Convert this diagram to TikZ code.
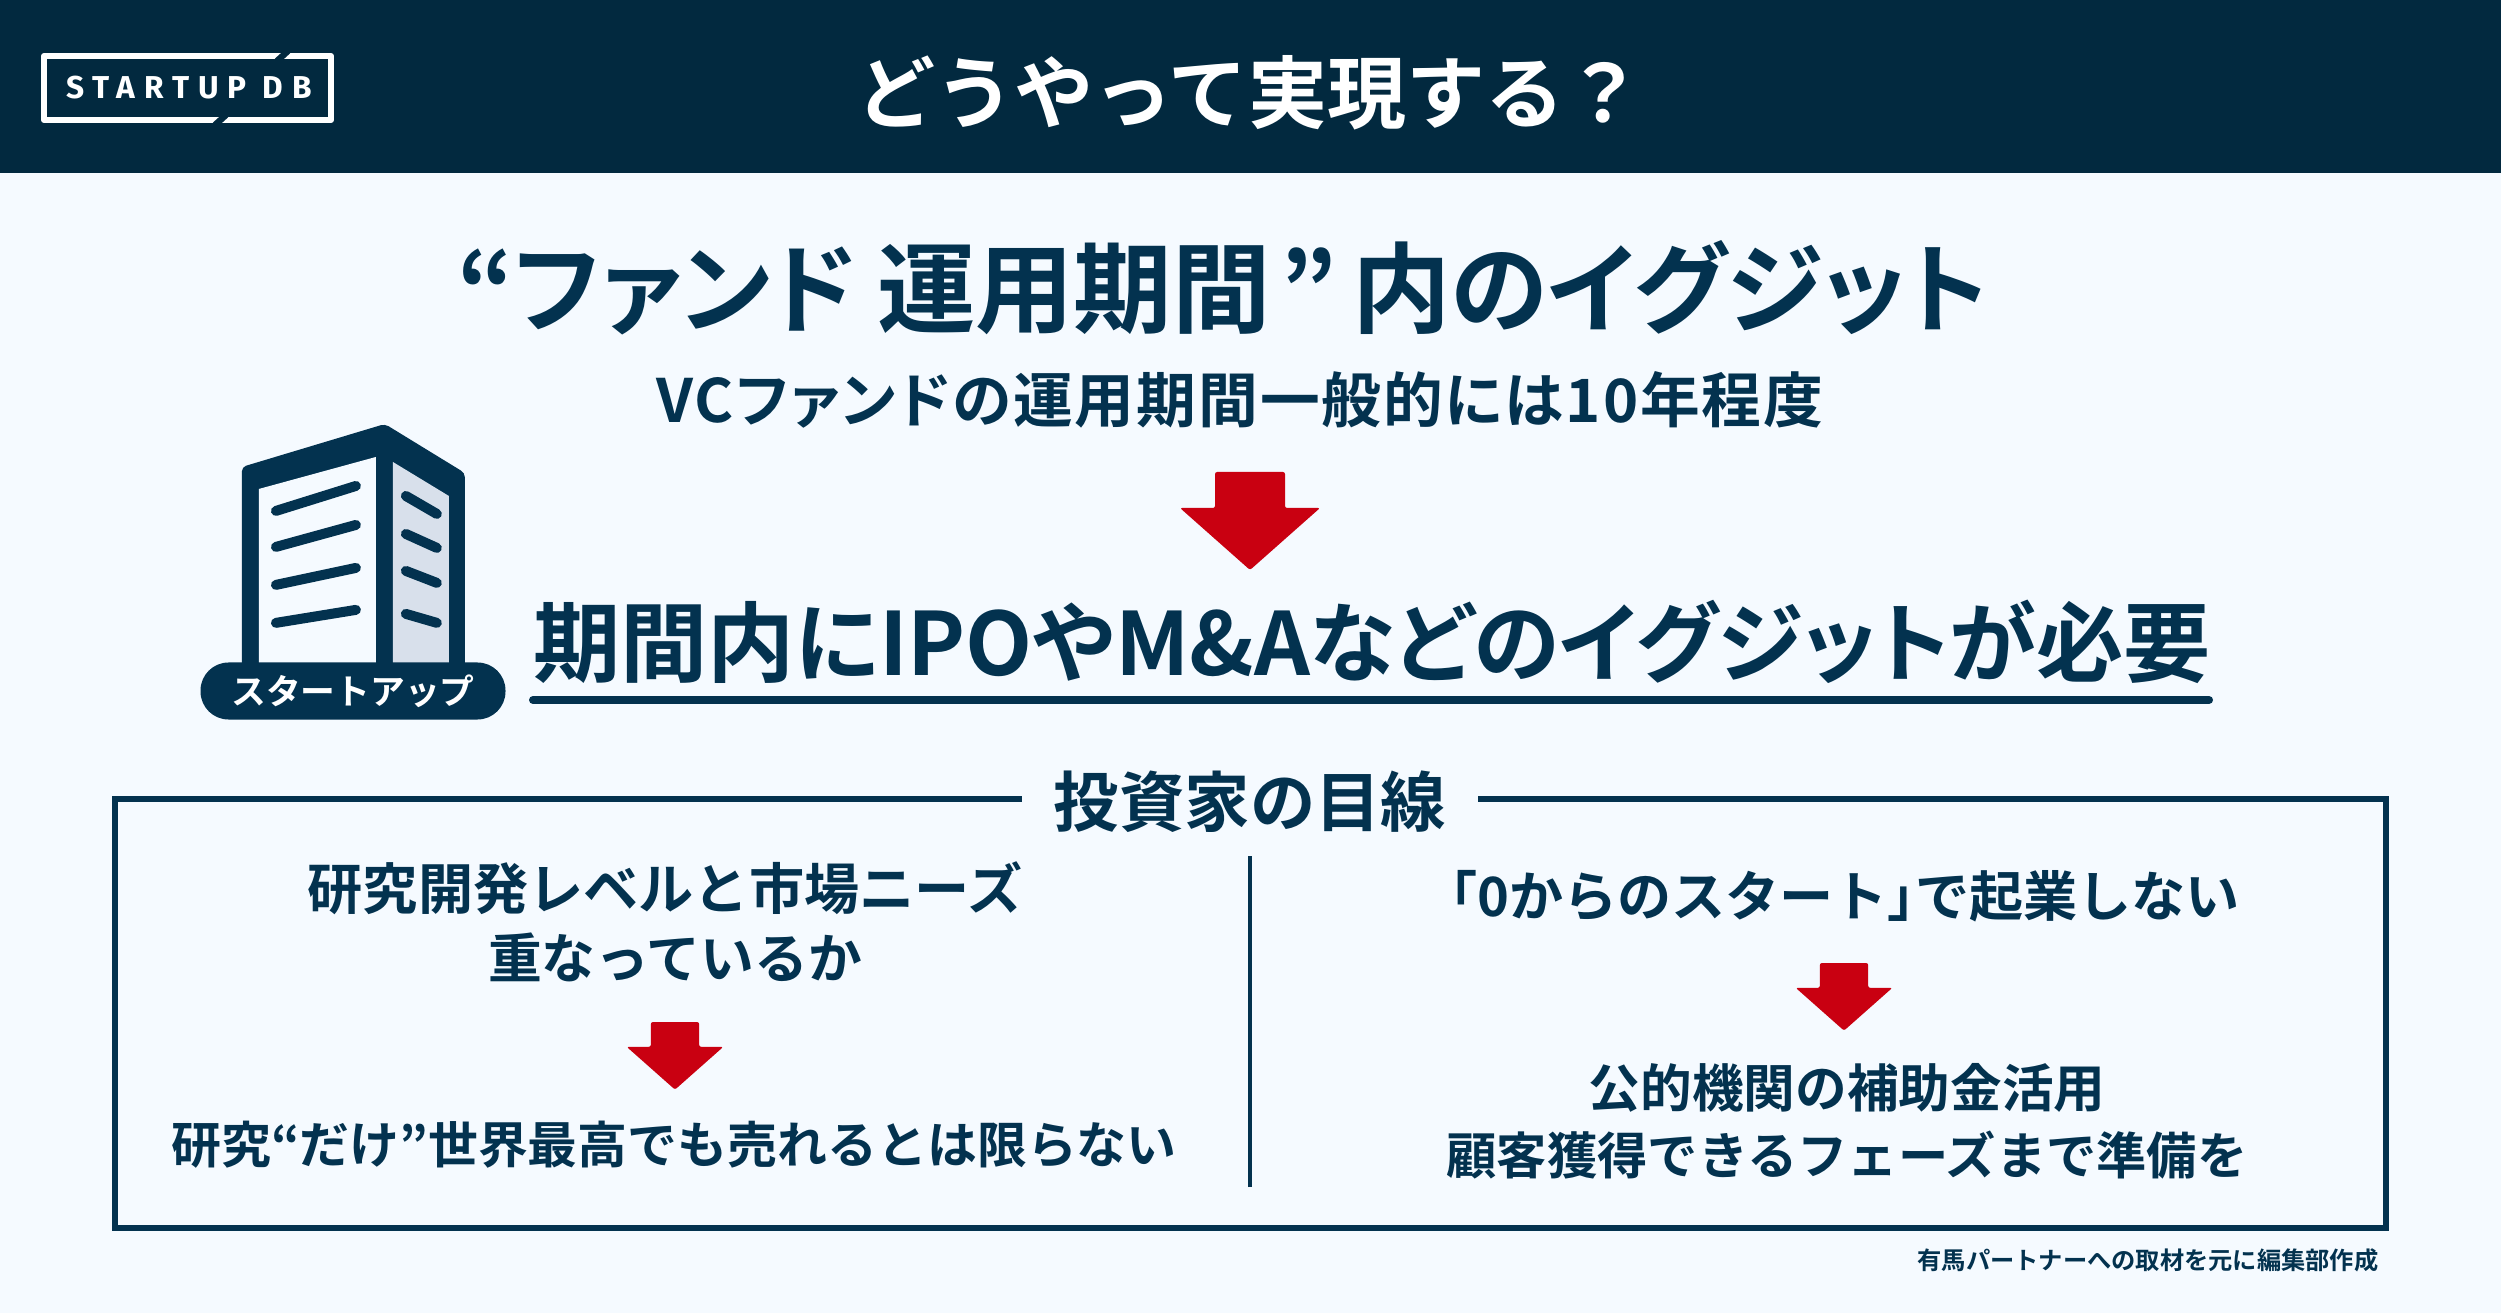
\documentclass[tikz,border=0pt]{standalone}
\usepackage{fontspec}
\usepackage{tikz}
\usetikzlibrary{positioning}
\newfontfamily\cjk[BoldFont={Noto Sans CJK JP Bold}]{Noto Sans CJK JP}
\newfontfamily\cjkp[RawFeature=+palt,BoldFont={Noto Sans CJK JP Bold}]{Noto Sans CJK JP}
\newfontfamily\logofont[LetterSpace=28]{Fira Sans}
\definecolor{headnavy}{HTML}{02293F}
\definecolor{paperblue}{HTML}{F5FAFF}
\definecolor{ink}{HTML}{03324F}
\definecolor{sidegray}{HTML}{D8E0EB}
\definecolor{alertred}{HTML}{C90011}
\newcommand{\px}[1]{\fontsize{#1}{#1}\selectfont}

\begin{document}
\begin{tikzpicture}[
  x=1cm,y=1cm,
  line cap=butt,line join=miter,
  font=\cjk\bfseries,
  label/.style={text=ink,inner sep=0pt,align=center},
  window/.style={draw=ink,line width=10pt*.2845,line cap=round},
  frameline/.style={draw=ink,line width=6pt*.2845}
]
\useasboundingbox (0,0) rectangle (25.01,13.13);
\fill[paperblue] (0,0) rectangle (25.01,13.13);
\fill[headnavy] (0,11.40) rectangle (25.01,13.13);

% logo
\draw[white,line width=1.7pt,line join=round] (.44,11.93) rectangle (3.31,12.57);
\draw[headnavy,line width=1.8pt] (2.77,12.52) -- (2.88,12.62);
\draw[headnavy,line width=1.8pt] (2.15,11.88) -- (2.26,11.98);
\node[text=white,inner sep=0pt,font=\logofont\bfseries\px{9}] (logotext) at (1.89,12.25) {STARTUP DB};
\node[text=white,inner sep=0pt,font=\cjk\bfseries\px{22.5}] (title) at (12.50,12.20) {どうやって実現する？};

\node[label,font=\cjkp\bfseries\px{28}] (fundterm) at (12.23,10.25)
  {“ファンド\hspace{.2cm}運用期間\hspace{.1cm}”\hspace{.15cm}内のイグジット};
\node[label,font=\cjkp\bfseries\px{17}] (fundnote) at (12.40,9.13)
  {\addfontfeature{LetterSpace=3.3}VCファンドの運用期間一般的には10年程度};
\node[label,font=\cjkp\bfseries\px{24.8}] (exitneed) at (13.72,6.71) {期間内にIPOやM\&Aなどのイグジットが必要};
\draw[ink,line width=8pt*.2845,line cap=round] (5.33,6.13) -- (22.09,6.13);

% building
\begin{scope}[shift={(1.8,13.13-4)},x=.01cm,y=-.01cm]
  \fill[ink,rounded corners=1.2pt] (62,67) -- (205,24) -- (285,73) -- (285,270) -- (62,270) -- cycle;
  \fill[paperblue] (79,89) -- (196,57) -- (196,265) -- (79,265) -- cycle;
  \fill[sidegray] (213,62) -- (269,96) -- (269,265) -- (213,265) -- cycle;
  \foreach \ya/\yb in {111/86,147/125,185/168,223/210}
    \draw[window] (96,\ya) -- (176,\yb);
  \foreach \ya/\yb in {96/114,134/148,171/183,214/223}
    \draw[window] (226,\ya) -- (257,\yb);
\end{scope}
\node[fill=ink,text=white,rounded corners=.28cm,minimum width=3.05cm,minimum height=.57cm,inner sep=0pt,
  font=\cjk\bfseries\px{9.9}] (startup) at (3.53,6.22) {スタートアップ};

% arrows
\foreach \cx/\ty/\sc in {12.50/8.41/1,6.75/2.91/.69,18.44/3.50/.69}{
  \fill[alertred,rounded corners=.6pt,shift={(\cx,\ty)},scale=\sc]
    (-.35,0) -- (.35,0) -- (.35,-.36) -- (.70,-.36) -- (0,-.98) -- (-.70,-.36) -- (-.35,-.36) -- cycle;
}

% investor box
\draw[frameline] (1.15,.85) rectangle (23.86,5.14);
\node[label,fill=paperblue,inner xsep=.32cm,font=\cjk\bfseries\px{18.6}] (eyes) at (12.50,5.11) {投資家の目線};
\draw[ink,line width=1.1pt] (12.50,1.26) -- (12.50,4.57);

\node[label,font=\cjk\bfseries\px{15.7}] (labfit) at (6.65,4.25) {研究開発レベルと市場ニーズ};
\node[label,font=\cjk\bfseries\px{15.3}] (fitq) at (6.75,3.56) {重なっているか};
\node[label,font=\cjk\bfseries\px{14.2}] (notsell) at (6.74,1.68) {研究{\cjkp“}だけ{\cjkp”}世界最高でも売れるとは限らない};
\node[label,font=\cjk\bfseries\px{15.4}] (zero) at (18.45,4.17) {{\cjkp「}0からのスタート{\cjkp」}で起業しない};
\node[label,font=\cjk\bfseries\px{14.7}] (grant) at (18.47,2.25) {公的機関の補助金活用};
\node[label,font=\cjk\bfseries\px{14.3}] (ready) at (18.47,1.58) {顧客獲得できるフェーズまで準備を};
\node[label,font=\cjk\bfseries\px{6.9}] (source) at (21.48,.53) {有馬パートナーへの取材を元に編集部作成};
\end{tikzpicture}
\end{document}
